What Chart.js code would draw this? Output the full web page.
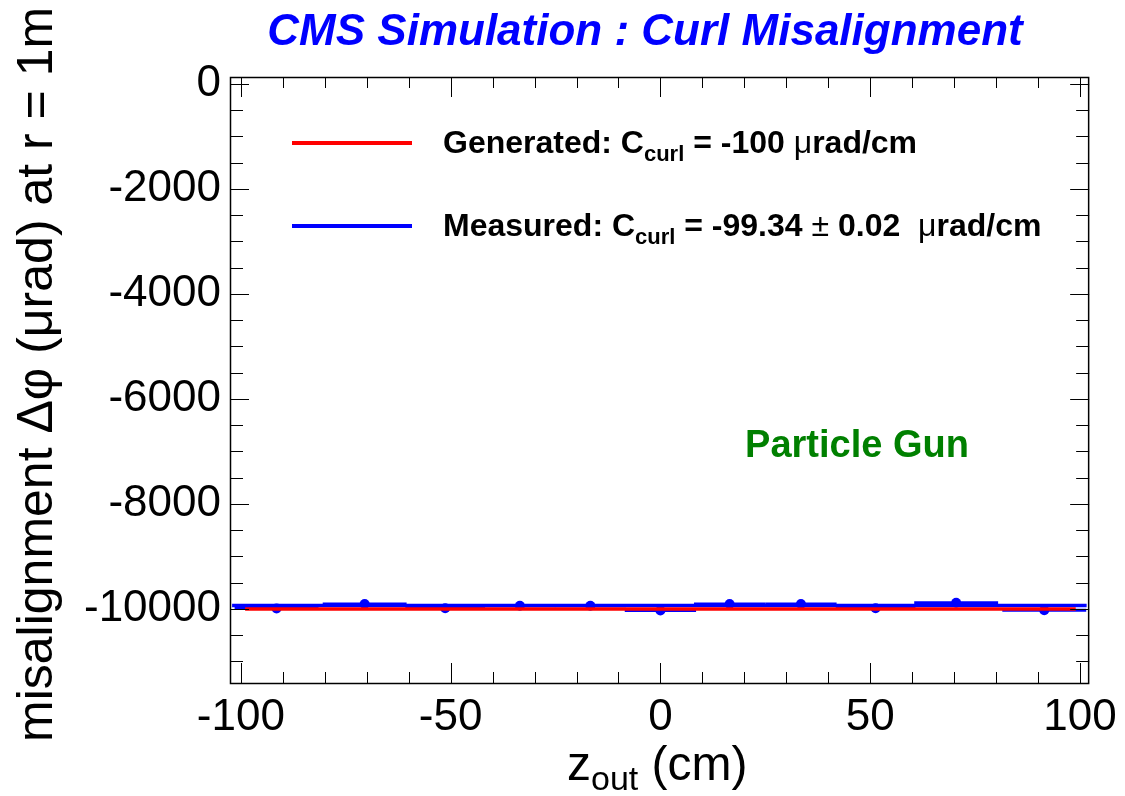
<!DOCTYPE html>
<html lang="en">
<head>
  <meta charset="UTF-8" />
  <title>CMS Simulation : Curl Misalignment</title>
  <script src="https://cdn.jsdelivr.net/npm/chart.js@4.4.1/dist/chart.umd.min.js"></script>
  <style>
    html, body { margin: 0; padding: 0; background: #fff; }
    #wrap { position: relative; width: 1125px; height: 796px; }
  </style>
</head>
<body>
  <div id="wrap">
    <canvas id="curl" width="1125" height="796"></canvas>
  </div>

  <script>
    // measured points: z_out bin centres (cm), half bin widths and delta phi (urad)
    const zOut = [-91.5, -70.5, -51.3, -33.5, -16.7, 0, 16.5, 33.5, 51.3, 70.5, 91.5];
    const zHalf = [10, 10, 9.5, 8.5, 8.5, 8.5, 8.5, 8.5, 9.5, 10, 10];
    const dPhi = [-9990, -9905, -9987, -9937, -9937, -10030, -9905, -9905, -9987, -9880, -10025];

    // generated and fitted curl (value at r = 1m) and the z span of each line
    const genValue = -10000;
    const genSpan = [-99, 99];
    const fitValue = -9934;
    const fitSpan = [-102.1, 101.6];

    // axes
    const xRange = [-102.6, 102.2];
    const yRange = [-11410, 133];
    const xMajor = [-100, -50, 0, 50, 100];
    const yMajor = [-10000, -8000, -6000, -4000, -2000, 0];
    const xMinorStep = 10;
    const yMinorStep = 500;

    const FONT = "'Liberation Sans', Arial, Helvetica, sans-serif";

    function range(a, b, step) {
      const out = [];
      for (let v = a; v <= b + 1e-9; v += step) out.push(Math.round(v * 1000) / 1000);
      return out;
    }
    const xMinor = range(-100, 100, xMinorStep);
    const yMinor = range(-11000, 0, yMinorStep);

    // draws text made of several runs (for subscripts, symbol glyphs)
    function drawRuns(ctx, x, y, runs) {
      let cx = x;
      runs.forEach(r => {
        ctx.font = r.font;
        ctx.fillText(r.text, cx, y + (r.dy || 0));
        cx += ctx.measureText(r.text).width;
      });
      return cx;
    }

    // horizontal error bars under the points
    const errorBars = {
      id: 'errorBars',
      beforeDatasetsDraw(chart) {
        const { ctx, scales: { x, y } } = chart;
        ctx.save();
        ctx.strokeStyle = '#0000ff';
        ctx.lineWidth = 3;
        zOut.forEach((z, i) => {
          const py = y.getPixelForValue(dPhi[i]);
          ctx.beginPath();
          ctx.moveTo(x.getPixelForValue(z - zHalf[i]), py);
          ctx.lineTo(x.getPixelForValue(z + zHalf[i]), py);
          ctx.stroke();
        });
        ctx.restore();
      }
    };

    // frame, inside ticks, titles, legend and label
    const decor = {
      id: 'decor',
      afterDraw(chart) {
        const { ctx, chartArea: a, scales: { x, y } } = chart;
        ctx.save();

        // ticks on all four sides
        ctx.strokeStyle = '#000';
        ctx.lineWidth = 1;
        const xl = v => Math.round(x.getPixelForValue(v)) + 0.5;
        const yl = v => Math.round(y.getPixelForValue(v)) + 0.5;
        xMinor.forEach(v => {
          const len = xMajor.includes(v) ? 20 : 11;
          const px = xl(v);
          ctx.beginPath();
          ctx.moveTo(px, a.bottom); ctx.lineTo(px, a.bottom - len);
          ctx.moveTo(px, a.top); ctx.lineTo(px, a.top + len);
          ctx.stroke();
        });
        yMinor.forEach(v => {
          const len = yMajor.includes(v) ? 19 : 13;
          const py = yl(v);
          ctx.beginPath();
          ctx.moveTo(a.left, py); ctx.lineTo(a.left + len, py);
          ctx.moveTo(a.right, py); ctx.lineTo(a.right - len, py);
          ctx.stroke();
        });
        ctx.lineWidth = 1.5;
        ctx.strokeRect(a.left + 0.5, a.top + 0.5, a.right - a.left - 1, a.bottom - a.top);

        // title
        ctx.fillStyle = '#0000ff';
        ctx.font = 'italic bold 44px ' + FONT;
        ctx.textAlign = 'center';
        ctx.textBaseline = 'alphabetic';
        ctx.fillText('CMS Simulation : Curl Misalignment', 645, 45);

        // legend
        ctx.textAlign = 'left';
        ctx.lineWidth = 4;
        ctx.strokeStyle = '#ff0000';
        ctx.beginPath(); ctx.moveTo(292, 143); ctx.lineTo(412, 143); ctx.stroke();
        ctx.strokeStyle = '#0000ff';
        ctx.beginPath(); ctx.moveTo(292, 226); ctx.lineTo(412, 226); ctx.stroke();

        const B = 'bold 32px ' + FONT;
        const S = 'bold 22px ' + FONT;
        const M = '32px ' + FONT;
        ctx.fillStyle = '#000';
        drawRuns(ctx, 443, 153, [
          { text: 'Generated: C', font: B },
          { text: 'curl', font: S, dy: 8 },
          { text: ' = -100 ', font: B },
          { text: '\u03bc', font: M },
          { text: 'rad/cm', font: B }
        ]);
        drawRuns(ctx, 443, 236, [
          { text: 'Measured: C', font: B },
          { text: 'curl', font: S, dy: 8 },
          { text: ' = -99.34 ', font: B },
          { text: '\u00b1', font: M },
          { text: ' 0.02  ', font: B },
          { text: '\u03bc', font: M },
          { text: 'rad/cm', font: B }
        ]);

        // inner label
        ctx.fillStyle = '#008000';
        ctx.font = 'bold 38px ' + FONT;
        ctx.textAlign = 'center';
        ctx.fillText('Particle Gun', 857, 457);

        // x axis title
        ctx.fillStyle = '#000';
        ctx.textAlign = 'left';
        drawRuns(ctx, 567, 780, [
          { text: 'z', font: '48px ' + FONT },
          { text: 'out', font: '34px ' + FONT, dy: 10 },
          { text: ' (cm)', font: '48px ' + FONT }
        ]);

        // y axis title
        ctx.translate(52, 742);
        ctx.rotate(-Math.PI / 2);
        ctx.font = '50px ' + FONT;
        ctx.fillText('misalignment \u0394\u03c6 (\u03bcrad) at r = 1m', 0, 0);

        ctx.restore();
      }
    };

    const ctx = document.getElementById('curl').getContext('2d');

    const chart = new Chart(ctx, {
      type: 'scatter',
      data: {
        datasets: [
          {
            label: 'Generated',
            type: 'line',
            data: genSpan.map(z => ({ x: z, y: genValue })),
            borderColor: '#ff0000',
            borderWidth: 3.5,
            pointRadius: 0
          },
          {
            label: 'Measured',
            type: 'line',
            data: fitSpan.map(z => ({ x: z, y: fitValue })),
            borderColor: '#0000ff',
            borderWidth: 3.5,
            pointRadius: 0
          },
          {
            label: 'Points',
            data: zOut.map((z, i) => ({ x: z, y: dPhi[i] })),
            backgroundColor: '#0000ff',
            borderColor: '#0000ff',
            pointRadius: 5,
            pointBorderWidth: 0
          }
        ]
      },
      options: {
        responsive: false,
        animation: false,
        events: [],
        layout: { padding: { top: 77, right: 35, left: 0, bottom: 0 } },
        plugins: {
          legend: { display: false },
          title: { display: false },
          tooltip: { enabled: false }
        },
        scales: {
          x: {
            type: 'linear',
            min: xRange[0],
            max: xRange[1],
            grid: { display: false, drawTicks: false },
            border: { display: false },
            afterBuildTicks: s => { s.ticks = xMajor.map(v => ({ value: v })); },
            afterFit: s => { s.height = 113; },
            ticks: {
              autoSkip: false,
              maxRotation: 0,
              padding: 8,
              color: '#000',
              font: { family: FONT, size: 44 },
              callback: v => String(v)
            }
          },
          y: {
            type: 'linear',
            min: yRange[0],
            max: yRange[1],
            grid: { display: false, drawTicks: false },
            border: { display: false },
            afterBuildTicks: s => { s.ticks = yMajor.map(v => ({ value: v })); },
            afterFit: s => { s.width = 230; },
            ticks: {
              autoSkip: false,
              padding: 9,
              color: '#000',
              font: { family: FONT, size: 44 },
              callback: v => String(v)
            }
          }
        }
      },
      plugins: [errorBars, decor]
    });
  </script>
</body>
</html>
